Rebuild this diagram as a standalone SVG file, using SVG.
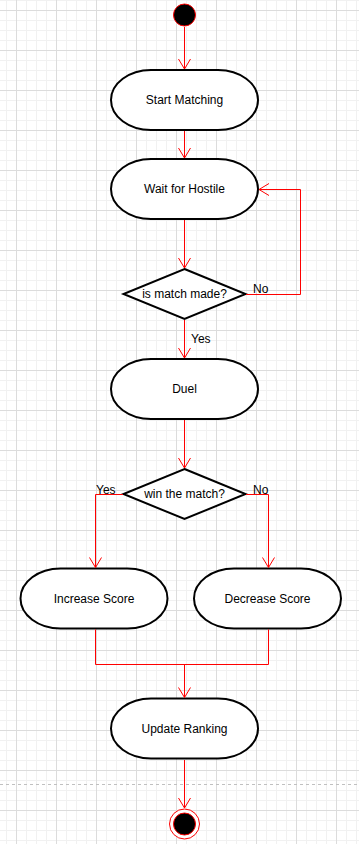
<svg xmlns="http://www.w3.org/2000/svg" width="359" height="844" viewBox="0 0 359 844">
<defs>
<pattern id="minor" x="6" y="0" width="10" height="10" patternUnits="userSpaceOnUse">
<path d="M0 0.5H10M0.5 0V10" fill="none" stroke="#f1f1f1" stroke-width="1"/>
</pattern>
<pattern id="major" x="16" y="10" width="40" height="40" patternUnits="userSpaceOnUse">
<path d="M0 0.5H40M0.5 0V40" fill="none" stroke="#dcdcdc" stroke-width="1"/>
</pattern>
<marker id="arr" viewBox="0 0 12 14" refX="11" refY="7" markerWidth="12" markerHeight="14" markerUnits="userSpaceOnUse" orient="auto">
<path d="M1 1L11 7L1 13" fill="none" stroke="#ff0000" stroke-width="1"/>
</marker>
</defs>
<style>
.act{fill:#fff;stroke:#000;stroke-width:2}
.t{font-family:"Liberation Sans",Arial,sans-serif;font-size:12px;fill:#000;text-anchor:middle;dominant-baseline:central}
.l{font-family:"Liberation Sans",Arial,sans-serif;font-size:12px;fill:#000}
.e{fill:none;stroke:#ff0000;stroke-width:1}
</style>
<rect width="359" height="844" fill="#fff"/>
<rect width="359" height="844" fill="url(#minor)"/>
<rect width="359" height="844" fill="url(#major)"/>
<line x1="0" y1="784.5" x2="359" y2="784.5" stroke="#c0c0c0" stroke-dasharray="3 3"/>

<g id="start"><circle cx="184.5" cy="15" r="11" fill="#000" stroke="#ff0000" stroke-width="1"/></g>
<g id="startMatching"><rect class="act" x="111" y="70" width="147" height="60" rx="40" ry="30"/><text class="t" x="184.5" y="100">Start Matching</text></g>
<g id="waitHostile"><rect class="act" x="111" y="159" width="147" height="60" rx="40" ry="30"/><text class="t" x="184.5" y="189">Wait for Hostile</text></g>
<g id="matchMade"><path class="act" d="M184.5 269L245.5 294L184.5 319L123.5 294Z"/><text class="t" x="184.5" y="294">is match made?</text></g>
<g id="duel"><rect class="act" x="111" y="359" width="147" height="60" rx="40" ry="30"/><text class="t" x="184.5" y="389">Duel</text></g>
<g id="winMatch"><path class="act" d="M184.5 469L245.5 494L184.5 519L123.5 494Z"/><text class="t" x="184.5" y="494">win the match?</text></g>
<g id="increase"><rect class="act" x="20.5" y="568.5" width="147" height="60" rx="40" ry="30"/><text class="t" x="94" y="599">Increase Score</text></g>
<g id="decrease"><rect class="act" x="194" y="568.5" width="147" height="60" rx="40" ry="30"/><text class="t" x="267.5" y="599">Decrease Score</text></g>
<g id="updateRanking"><rect class="act" x="111" y="698.5" width="147" height="60" rx="40" ry="30"/><text class="t" x="184.5" y="729">Update Ranking</text></g>
<g id="end"><circle cx="184.5" cy="824" r="15" fill="#fff" stroke="#ff0000" stroke-width="1"/><circle cx="184.5" cy="824" r="11" fill="#000" stroke="#ff0000" stroke-width="1"/></g>

<g id="connectors">
<path class="e" d="M184.5 27V69" marker-end="url(#arr)"/>
<path class="e" d="M184.5 131V158" marker-end="url(#arr)"/>
<path class="e" d="M184.5 220V268" marker-end="url(#arr)"/>
<path class="e" d="M246 294.5H300.5V189.5H259" marker-end="url(#arr)"/>
<path class="e" d="M184.5 320V358" marker-end="url(#arr)"/>
<path class="e" d="M184.5 420V468" marker-end="url(#arr)"/>
<path class="e" d="M123 494.5H95.5V567.5" marker-end="url(#arr)"/>
<path class="e" d="M246 494.5H268.5V567.5" marker-end="url(#arr)"/>
<path class="e" d="M95.5 629.5V664.5H268.5V629.5"/>
<path class="e" d="M184.5 664.5V697.5" marker-end="url(#arr)"/>
<path class="e" d="M184.5 760V808" marker-end="url(#arr)"/>
<text class="l" x="253" y="293">No</text>
<text class="l" x="191" y="343">Yes</text>
<text class="l" x="96" y="494">Yes</text>
<text class="l" x="253" y="494">No</text>
</g>
</svg>
